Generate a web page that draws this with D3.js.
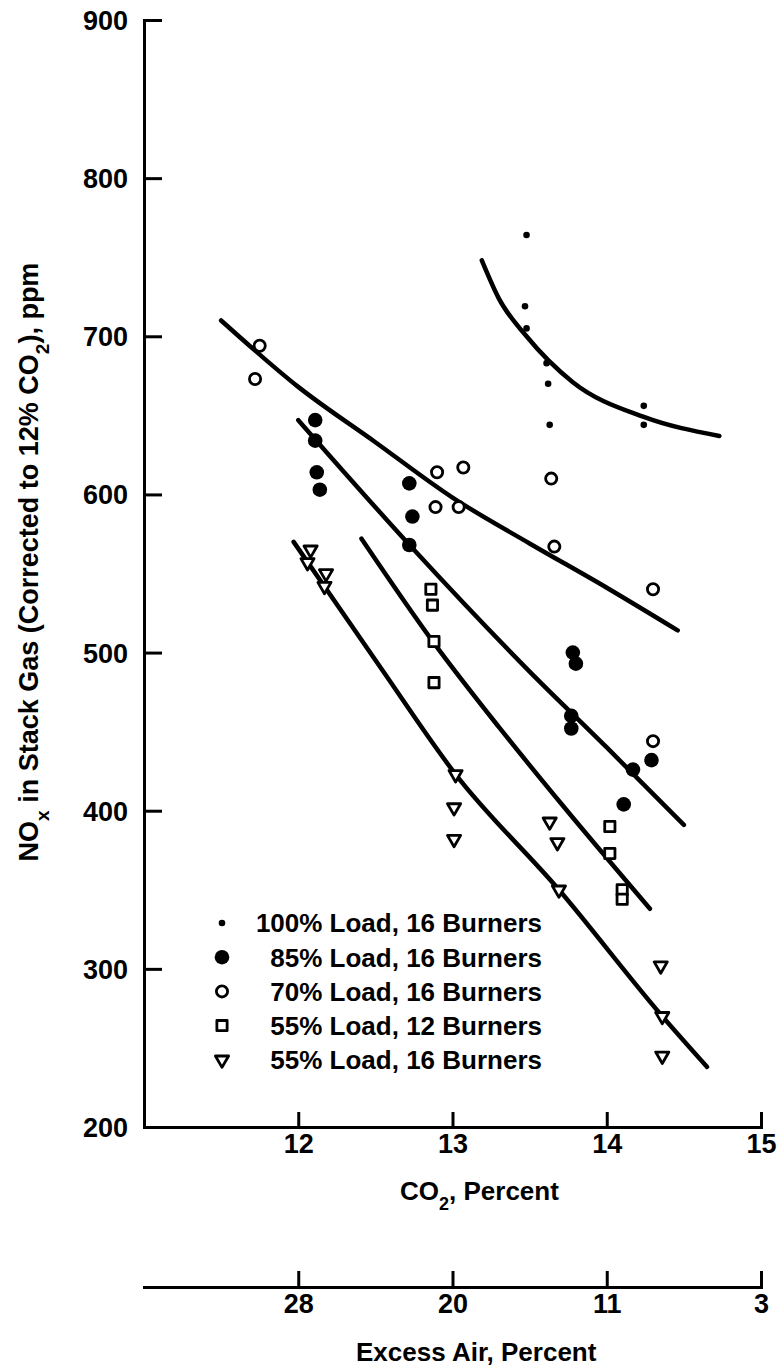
<!DOCTYPE html>
<html>
<head>
<meta charset="utf-8">
<script src="https://cdn.jsdelivr.net/npm/d3@7"></script>
<style>
  body { margin: 0; background: #fff; }
  svg { display: block; }
  text { font-family: "Liberation Sans", Arial, sans-serif; font-weight: bold; fill: #000; }
  .axis path, .axis line { stroke: #000; stroke-width: 3; }
  .axis text { font-size: 27px; }
  .fit { fill: none; stroke: #000; stroke-width: 4.5; stroke-linecap: round; }
</style>
</head>
<body>
<svg id="chart" width="778" height="1370"></svg>
<script>
// measured points, [CO2 %, NOx ppm]
var load100 = [[13.48,764],[13.47,719],[13.48,705],[13.61,683],[13.62,670],[13.63,644],[14.24,656],[14.24,644]];
var load85 = [[12.11,647],[12.11,634],[12.12,614],[12.14,603],[12.72,607],[12.74,586],[12.72,568],
              [13.78,500],[13.80,493],[13.77,460],[13.77,452],[14.17,426],[14.29,432],[14.11,404]];
var load70 = [[11.75,694],[11.72,673],[12.90,614],[13.07,617],[12.89,592],[13.04,592],
              [13.64,610],[13.66,567],[14.30,540],[14.30,444]];
var load55b12 = [[12.86,540],[12.87,530],[12.88,507],[12.88,481],[14.02,390],[14.02,373],[14.10,350],[14.10,344]];
var load55b16 = [[12.08,565],[12.06,557],[12.18,550],[12.17,542],[13.02,423],[13.01,402],[13.01,382],
                 [13.63,393],[13.68,380],[13.69,350],[14.35,302],[14.36,270],[14.36,245]];

// fitted curves drawn on the original
var fit100 = [[13.19,748],[13.30,724],[13.48,700],[13.78,671],[14.24,649],[14.73,637]];
var fit85 = [[12.0,647],[12.75,565],[13.5,488],[14.0,440],[14.5,391]];
var fit70 = [[11.5,710],[12.0,668],[12.5,633],[13.0,598],[13.5,569],[14.0,541],[14.46,514]];
var fit55b12 = [[12.41,572],[12.88,506],[13.3,453],[13.70,405],[14.28,338]];
var fit55b16 = [[11.97,570],[12.53,491],[13.02,423],[13.69,350],[14.36,270],[14.65,238]];

var yTicks = [200,300,400,500,600,700,800,900];
var xTicks = [12,13,14,15];
var excessAirLabels = ["28","20","11","3"];
var legendLabels = ["100% Load, 16 Burners","85% Load, 16 Burners","70% Load, 16 Burners",
                    "55% Load, 12 Burners","55% Load, 16 Burners"];

var svg = d3.select("#chart");

var x = d3.scaleLinear().domain([11, 15]).range([144, 761]);
var y = d3.scaleLinear().domain([200, 900]).range([1127, 20]);

var line = d3.line()
    .x(function(d) { return x(d[0]); })
    .y(function(d) { return y(d[1]); })
    .curve(d3.curveMonotoneX);

// axes
svg.append("g")
    .attr("class", "axis")
    .attr("transform", "translate(" + x.range()[0] + ",0)")
    .call(d3.axisLeft(y).tickValues(yTicks).tickSize(-18).tickSizeOuter(0).tickPadding(16))
    .selectAll("text").attr("dy", "0.35em");

svg.append("g")
    .attr("class", "axis")
    .attr("transform", "translate(0," + y(200) + ")")
    .call(d3.axisBottom(x).tickValues(xTicks).tickSize(-15).tickSizeOuter(0).tickPadding(7)
      .tickFormat(d3.format("d")));

svg.append("g")
    .attr("class", "axis")
    .attr("transform", "translate(0,1287)")
    .call(d3.axisBottom(x).tickValues(xTicks).tickSize(-16).tickSizeOuter(0).tickPadding(7)
      .tickFormat(function(d, i) { return excessAirLabels[i]; }));

svg.selectAll(".axis .domain").attr("stroke-linecap", "square");

// axis titles
var xl = svg.append("text").attr("x", 400).attr("y", 1200).style("font-size", "26px");
xl.append("tspan").text("CO");
xl.append("tspan").attr("baseline-shift", "sub").style("font-size", "18px").text("2");
xl.append("tspan").text(", Percent");

svg.append("text").attr("x", 356).attr("y", 1361).style("font-size", "26px")
    .text("Excess Air, Percent");

var yl = svg.append("text")
    .attr("transform", "translate(38,562) rotate(-90)")
    .attr("text-anchor", "middle")
    .style("font-size", "27px");
yl.append("tspan").text("NO");
yl.append("tspan").attr("baseline-shift", "sub").style("font-size", "19px").text("x");
yl.append("tspan").text(" in Stack Gas (Corrected to 12% CO");
yl.append("tspan").attr("baseline-shift", "sub").style("font-size", "19px").text("2");
yl.append("tspan").text("), ppm");

// fitted lines
[fit100, fit85, fit70, fit55b12, fit55b16].forEach(function(f) {
  svg.append("path").attr("class", "fit").attr("d", line(f));
});

// markers
var tri = d3.symbol().type(d3.symbolTriangle).size(75);
var sq = d3.symbol().type(d3.symbolSquare).size(105);

function drawMarker(g, kind) {
  if (kind === 0) {
    g.append("circle").attr("r", 3.3).attr("fill", "#000");
  } else if (kind === 1) {
    g.append("circle").attr("r", 7.3).attr("fill", "#000");
  } else if (kind === 2) {
    g.append("circle").attr("r", 5.6).attr("fill", "#fff").attr("stroke", "#000").attr("stroke-width", 2.8);
  } else if (kind === 3) {
    g.append("path").attr("d", sq()).attr("fill", "#fff").attr("stroke", "#000").attr("stroke-width", 2.8)
        .attr("stroke-linejoin", "round");
  } else {
    g.append("path").attr("d", tri()).attr("transform", "rotate(180)")
        .attr("fill", "#fff").attr("stroke", "#000").attr("stroke-width", 2.8).attr("stroke-linejoin", "round");
  }
}

[load100, load85, load70, load55b12, load55b16].forEach(function(series, k) {
  svg.append("g").selectAll("g")
      .data(series)
      .enter().append("g")
      .attr("transform", function(d) { return "translate(" + x(d[0]) + "," + y(d[1]) + ")"; })
      .each(function() { drawMarker(d3.select(this), k); });
});

// legend
var legend = svg.append("g").selectAll("g")
    .data(legendLabels)
    .enter().append("g")
    .attr("transform", function(d, i) { return "translate(0," + (923 + i * 34.2) + ")"; });

legend.each(function(d, i) {
  var g = d3.select(this);
  drawMarker(g.append("g").attr("transform", "translate(222,0)"), i);
  g.append("text").attr("x", 542).attr("y", 0).attr("dy", "0.36em")
      .attr("text-anchor", "end").style("font-size", "26px").text(d);
});
</script>
</body>
</html>
